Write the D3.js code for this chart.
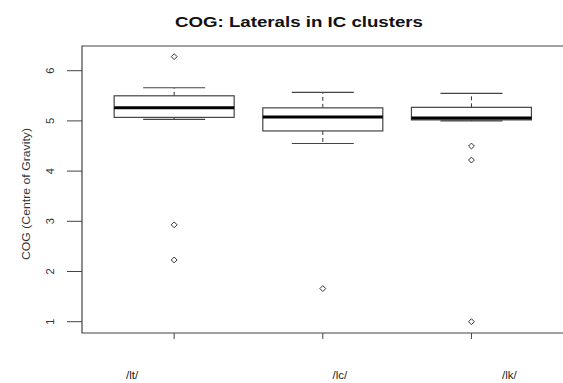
<!DOCTYPE html>
<html><head><meta charset="utf-8">
<script src="https://cdn.jsdelivr.net/npm/d3@7"></script>
<style>
html,body{margin:0;padding:0;background:#fff;}
svg{display:block;}
</style>
</head><body>
<svg id="c" width="563" height="383"></svg>
<script>
// ---- data ----
const categories = ["/lt/", "/lc/", "/lk/"];
const whiskerLow  = [5.03, 4.55, 5.00];
const q1          = [5.07, 4.80, 5.02];
const median      = [5.26, 5.08, 5.06];
const q3          = [5.50, 5.26, 5.27];
const whiskerHigh = [5.66, 5.57, 5.55];
const outliers    = [[6.28, 2.93, 2.23], [1.66], [4.50, 4.22, 1.00]];
const yTicks      = [1, 2, 3, 4, 5, 6];
const titleText   = "COG: Laterals in IC clusters";
const yTitle      = "COG (Centre of Gravity)";

// ---- layout ----
(function () {
const svg = d3.select("#c");
const padL = 82, padT = 46, padB = 333, rightEdge = 563.6;
const labelShift = [-42, 17, 38];

const x = d3.scaleLinear().domain([0.38, 3.62]).range([padL, rightEdge]);
const y = d3.scaleLinear().domain([1, 6]).range([321.7, 70.7]);
const boxHalf = 60, capHalf = 31;
const axisCol = "#444";

// frame (top + left + bottom)
svg.append("path")
  .attr("d", `M${rightEdge + 5},${padT}H${padL}V${padB}H${rightEdge + 5}`)
  .attr("fill", "none").attr("stroke", axisCol).attr("stroke-width", 1.2);

// title
svg.append("text").attr("x", 299).attr("y", 27)
  .attr("text-anchor", "middle")
  .attr("font-family", "Liberation Sans, Arial, sans-serif")
  .attr("font-weight", "bold").attr("font-size", 15)
  .attr("textLength", 248).attr("lengthAdjust", "spacingAndGlyphs")
  .attr("fill", "#111").text(titleText);

// y axis ticks
const yAxis = svg.append("g");
yAxis.selectAll("line").data(yTicks).join("line")
  .attr("x1", 67).attr("x2", padL)
  .attr("y1", d => y(d)).attr("y2", d => y(d))
  .attr("stroke", axisCol).attr("stroke-width", 1);
yAxis.selectAll("text").data(yTicks).join("text")
  .attr("transform", d => `translate(54,${y(d)}) rotate(-90)`)
  .attr("text-anchor", "middle")
  .attr("font-family", "Liberation Sans, Arial, sans-serif")
  .attr("font-size", 11).attr("fill", "#333")
  .text(d => d);

svg.append("text")
  .attr("transform", `translate(30,194) rotate(-90)`)
  .attr("text-anchor", "middle")
  .attr("font-family", "Liberation Sans, Arial, sans-serif")
  .attr("font-size", 11).attr("fill", "#333")
  .attr("textLength", 132).attr("lengthAdjust", "spacingAndGlyphs")
  .text(yTitle);

// x axis ticks and labels
const xAxis = svg.append("g");
xAxis.selectAll("line").data(categories).join("line")
  .attr("x1", (d, i) => x(i + 1)).attr("x2", (d, i) => x(i + 1))
  .attr("y1", padB).attr("y2", padB + 6)
  .attr("stroke", axisCol).attr("stroke-width", 1);
xAxis.selectAll("text").data(categories).join("text")
  .attr("x", (d, i) => x(i + 1) + labelShift[i]).attr("y", 379)
  .attr("text-anchor", "middle")
  .attr("font-family", "Liberation Sans, Arial, sans-serif")
  .attr("font-size", 11.5).attr("fill", "#222")
  .text(d => d);

// boxes
const g = svg.append("g");
categories.forEach((c, i) => {
  const cx = x(i + 1);
  g.append("line").attr("x1", cx).attr("x2", cx)
    .attr("y1", y(q3[i])).attr("y2", y(whiskerHigh[i]))
    .attr("stroke", "#333").attr("stroke-dasharray", "4,3");
  g.append("line").attr("x1", cx).attr("x2", cx)
    .attr("y1", y(q1[i])).attr("y2", y(whiskerLow[i]))
    .attr("stroke", "#333").attr("stroke-dasharray", "4,3");
  [whiskerHigh[i], whiskerLow[i]].forEach(v => {
    g.append("line").attr("x1", cx - capHalf).attr("x2", cx + capHalf)
      .attr("y1", y(v)).attr("y2", y(v))
      .attr("stroke", "#444").attr("stroke-width", 1.2);
  });
  g.append("rect").attr("x", cx - boxHalf).attr("width", boxHalf * 2)
    .attr("y", y(q3[i])).attr("height", y(q1[i]) - y(q3[i]))
    .attr("fill", "#fff").attr("stroke", "#444").attr("stroke-width", 1.2);
  g.append("line").attr("x1", cx - boxHalf).attr("x2", cx + boxHalf)
    .attr("y1", y(median[i])).attr("y2", y(median[i]))
    .attr("stroke", "#000").attr("stroke-width", 3);
  g.selectAll(null).data(outliers[i]).join("path")
    .attr("transform", d => `translate(${cx},${y(d)})`)
    .attr("d", d3.symbol().type(d3.symbolDiamond2).size(22))
    .attr("fill", "none").attr("stroke", "#333").attr("stroke-width", 1);
});
})();
</script>
</body></html>
